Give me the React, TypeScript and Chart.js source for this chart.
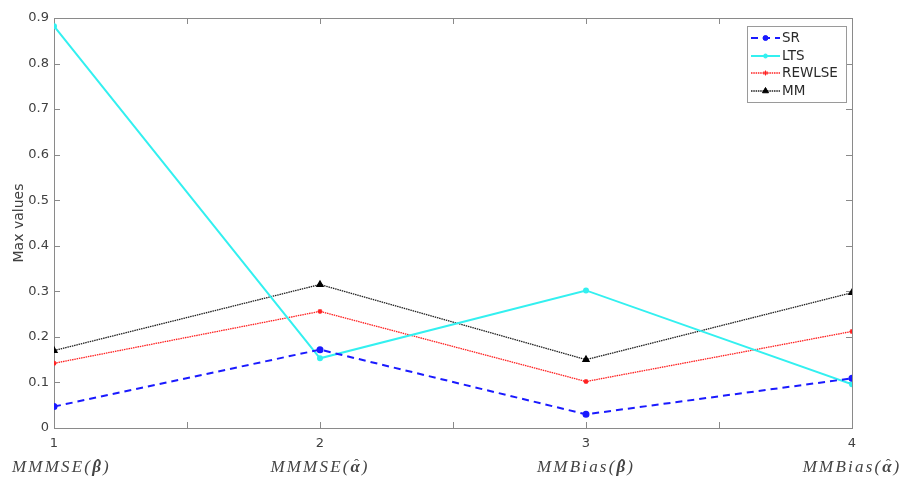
import React, { useEffect, useRef } from 'react';
import { Chart, registerables } from 'chart.js';
import { drawPoint } from 'chart.js/helpers';

Chart.register(...registerables);

// x positions of the four criteria and their names (prefix, hatted letter, suffix)
const positions = [1, 2, 3, 4];
const criteriaPrefixes = ['MMMSE(', 'MMMSE(', 'MMBias(', 'MMBias('];
const criteriaSymbols = ['β', 'α', 'β', 'α'];
const criteriaSuffix = ')';

// maximum values per estimator
const srValues = [0.047, 0.172, 0.03, 0.109];
const ltsValues = [0.882, 0.153, 0.302, 0.096];
const rewlseValues = [0.142, 0.256, 0.102, 0.212];
const mmValues = [0.17, 0.315, 0.15, 0.297];

const seriesNames = ['SR', 'LTS', 'REWLSE', 'MM'];
const yAxisTitle = 'Max values';

const AXIS_COLOR = '#8a8a8a';
const TEXT_COLOR = '#404040';
const SANS = '"DejaVu Sans", Verdana, sans-serif';
const SERIF_ITALIC = 'italic 17px "Liberation Serif", "DejaVu Serif", serif';

const toPoints = (vals: number[]) => vals.map((v, i) => ({ x: positions[i], y: v }));

// box around the plot with inward ticks, y title, criteria names and legend
const framePlugin = {
  id: 'frame',
  beforeDatasetsDraw(chart: any) {
    const { ctx, chartArea } = chart;
    const { left, right, top, bottom } = chartArea;
    const xs = chart.scales.x;
    const ys = chart.scales.y;
    ctx.save();
    ctx.strokeStyle = AXIS_COLOR;
    ctx.lineWidth = 1;
    ctx.strokeRect(left + 0.5, top + 0.5, right - left, bottom - top);
    ctx.beginPath();
    xs.ticks.forEach((t: any) => {
      const px = Math.round(xs.getPixelForValue(t.value)) + 0.5;
      ctx.moveTo(px, bottom);
      ctx.lineTo(px, bottom - 6);
      ctx.moveTo(px, top);
      ctx.lineTo(px, top + 6);
    });
    ys.ticks.forEach((t: any) => {
      const py = Math.round(ys.getPixelForValue(t.value)) + 0.5;
      ctx.moveTo(left, py);
      ctx.lineTo(left + 6, py);
      ctx.moveTo(right, py);
      ctx.lineTo(right - 6, py);
    });
    ctx.stroke();

    // y axis title
    ctx.fillStyle = TEXT_COLOR;
    ctx.font = `14px ${SANS}`;
    ctx.textAlign = 'center';
    ctx.textBaseline = 'middle';
    ctx.save();
    ctx.translate(19, (top + bottom) / 2);
    ctx.rotate(-Math.PI / 2);
    ctx.fillText(yAxisTitle, 0, 0);
    ctx.restore();

    // criteria names under the numeric ticks
    ctx.fillStyle = '#444';
    ctx.textAlign = 'left';
    ctx.textBaseline = 'alphabetic';
    const baseY = 472;
    positions.forEach((pos, i) => {
      ctx.font = SERIF_ITALIC;
      (ctx as any).letterSpacing = '2.2px';
      const pre = criteriaPrefixes[i];
      const sym = criteriaSymbols[i];
      const wPre = ctx.measureText(pre).width;
      const wSym = ctx.measureText(sym).width;
      const wSuf = ctx.measureText(criteriaSuffix).width;
      const total = wPre + wSym + wSuf;
      let x = Math.max(12, xs.getPixelForValue(pos) - total / 2);
      ctx.fillText(pre, x, baseY);
      x += wPre;
      ctx.font = `italic bold 17px "Liberation Serif", "DejaVu Serif", serif`;
      ctx.fillText(sym, x, baseY);
      // hat accent over the estimator symbol
      (ctx as any).letterSpacing = '0px';
      ctx.font = '15px "Liberation Serif", "DejaVu Serif", serif';
      ctx.textAlign = 'center';
      ctx.fillText('ˆ', x + (wSym - 2.2) / 2 + 1.5, baseY - 3);
      ctx.textAlign = 'left';
      ctx.font = SERIF_ITALIC;
      (ctx as any).letterSpacing = '2.2px';
      x += wSym;
      ctx.fillText(criteriaSuffix, x, baseY);
    });
    ctx.restore();
  },
  afterDraw(chart: any) {
    const { ctx } = chart;
    const bx = 747;
    const by = 26;
    const bw = 99;
    const bh = 76;
    ctx.save();
    ctx.fillStyle = '#ffffff';
    ctx.fillRect(bx, by, bw, bh);
    ctx.strokeStyle = '#9a9a9a';
    ctx.lineWidth = 1;
    ctx.strokeRect(bx + 0.5, by + 0.5, bw, bh);
    const rowYs = [38, 56, 73, 91];
    chart.data.datasets.forEach((ds: any, i: number) => {
      const y = rowYs[i];
      ctx.save();
      ctx.strokeStyle = ds.borderColor;
      ctx.lineWidth = ds.borderWidth;
      ctx.setLineDash(ds.borderDash || []);
      ctx.beginPath();
      ctx.moveTo(751, y);
      ctx.lineTo(780, y);
      ctx.stroke();
      ctx.restore();
      ctx.save();
      ctx.fillStyle = ds.pointBackgroundColor;
      ctx.strokeStyle = ds.pointBorderColor;
      ctx.lineWidth = 1;
      ctx.setLineDash([]);
      drawPoint(
        ctx,
        {
          pointStyle: ds.pointStyle,
          radius: ds.pointRadius,
          borderWidth: 1,
          rotation: 0,
        } as any,
        765.5,
        y
      );
      ctx.restore();
      ctx.fillStyle = '#2a2a2a';
      ctx.font = `13.5px ${SANS}`;
      ctx.textAlign = 'left';
      ctx.textBaseline = 'middle';
      ctx.fillText(ds.label, 782, y + 0.5);
    });
    ctx.restore();
  },
};

export default function App() {
  const canvasRef = useRef<HTMLCanvasElement | null>(null);

  useEffect(() => {
    if (!canvasRef.current) return;
    const chart = new Chart(canvasRef.current, {
      type: 'line',
      data: {
        datasets: [
          {
            label: seriesNames[0],
            data: toPoints(srValues),
            borderColor: '#1a1aff',
            backgroundColor: '#1a1aff',
            pointBackgroundColor: '#1a1aff',
            pointBorderColor: '#1a1aff',
            borderWidth: 2,
            borderDash: [7, 5],
            pointStyle: 'circle',
            pointRadius: 2.5,
          },
          {
            label: seriesNames[1],
            data: toPoints(ltsValues),
            borderColor: '#33f0f0',
            backgroundColor: '#33f0f0',
            pointBackgroundColor: '#33f0f0',
            pointBorderColor: '#33f0f0',
            borderWidth: 2,
            pointStyle: 'circle',
            pointRadius: 2,
          },
          {
            label: seriesNames[2],
            data: toPoints(rewlseValues),
            borderColor: '#ff2020',
            backgroundColor: '#ff2020',
            pointBackgroundColor: '#ff2020',
            pointBorderColor: '#ff2020',
            borderWidth: 1.3,
            borderDash: [1.5, 0.8],
            pointStyle: 'star',
            pointRadius: 2.5,
          },
          {
            label: seriesNames[3],
            data: toPoints(mmValues),
            borderColor: '#202020',
            backgroundColor: '#000000',
            pointBackgroundColor: '#000000',
            pointBorderColor: '#000000',
            borderWidth: 1.3,
            borderDash: [1.5, 0.8],
            pointStyle: 'triangle',
            pointRadius: 3.5,
          },
        ] as any,
      },
      options: {
        animation: false,
        responsive: true,
        maintainAspectRatio: false,
        layout: { padding: { left: 0, right: 49, top: 18, bottom: 0 } },
        plugins: {
          legend: { display: false },
          tooltip: { enabled: false },
        },
        scales: {
          x: {
            type: 'linear',
            min: 1,
            max: 4,
            grid: { display: false, drawTicks: false },
            border: { display: false },
            ticks: {
              stepSize: 0.5,
              padding: 8,
              color: TEXT_COLOR,
              font: { family: SANS, size: 13 },
              maxRotation: 0,
              autoSkip: false,
              callback: (v: any) => (Number.isInteger(v) ? String(v) : ''),
            },
            afterFit: (scale: any) => {
              scale.height = 58;
            },
          },
          y: {
            type: 'linear',
            min: 0,
            max: 0.9,
            grid: { display: false, drawTicks: false },
            border: { display: false },
            ticks: {
              stepSize: 0.1,
              padding: 5,
              color: TEXT_COLOR,
              font: { family: SANS, size: 13 },
              callback: (v: any) => String(Number(Number(v).toFixed(1))),
            },
            afterFit: (scale: any) => {
              scale.width = 54;
            },
          },
        },
      },
      plugins: [framePlugin],
    });
    return () => chart.destroy();
  }, []);

  return (
    <div style={{ position: 'fixed', left: 0, top: 0, width: 901, height: 486, background: '#fff' }}>
      <canvas ref={canvasRef} />
    </div>
  );
}
